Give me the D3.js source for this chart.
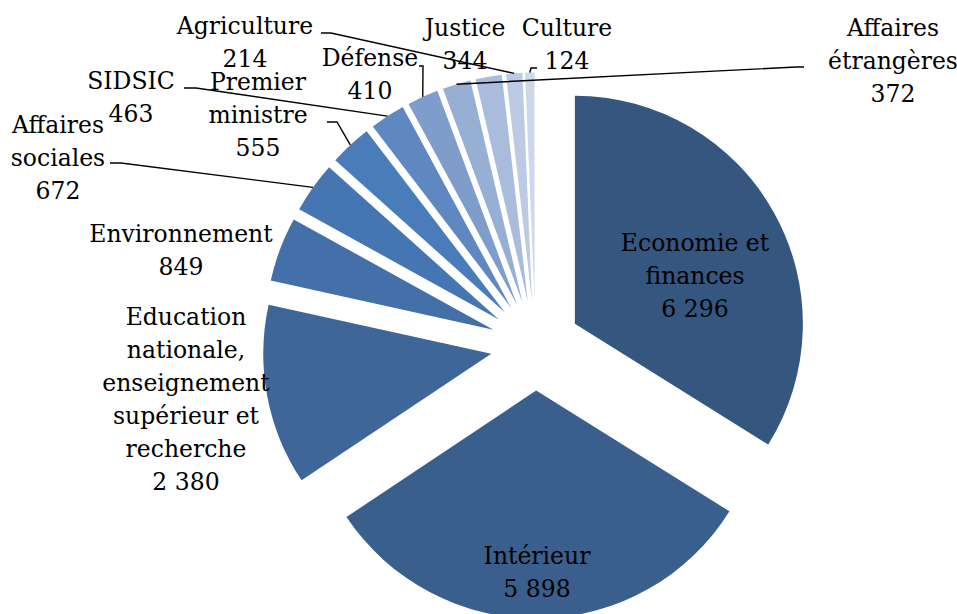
<!DOCTYPE html>
<html>
<head>
<meta charset="utf-8">
<script src="https://cdn.jsdelivr.net/npm/d3@7"></script>
<style>
  html, body { margin: 0; padding: 0; background: #fff; }
  svg { display: block; }
  text { font-family: "Palatino Linotype", "Book Antiqua", Palatino, "DejaVu Serif", serif; font-size: 23.5px; fill: #000; }
</style>
</head>
<body>
<svg id="chart" width="957" height="614"></svg>
<script>
// Effectifs par ministère (ordre décroissant, sens horaire depuis midi)
const ministries = [
  "Economie et finances", "Intérieur",
  "Education nationale, enseignement supérieur et recherche",
  "Environnement", "Affaires sociales", "Premier ministre", "SIDSIC",
  "Défense", "Affaires étrangères", "Justice", "Agriculture", "Culture"
];
const effectifs = [6296, 5898, 2380, 849, 672, 555, 463, 410, 372, 344, 214, 124];

// Libellés tels qu'affichés, découpés en lignes
const nameLines = [
  ["Economie et", "finances"], ["Intérieur"],
  ["Education", "nationale,", "enseignement", "supérieur et", "recherche"],
  ["Environnement"], ["Affaires", "sociales"], ["Premier", "ministre"],
  ["SIDSIC"], ["Défense"], ["Affaires", "étrangères"], ["Justice"],
  ["Agriculture"], ["Culture"]
];

// Dégradé de bleus, du plus sombre au plus clair
const palette = [
  "#34567f", "#3a5f8c", "#3e6698", "#4370a8", "#4676b2", "#4a7cba",
  "#6088c0", "#7f9dcb", "#98afd4", "#aabcdc", "#bdcae4", "#cfd8eb"
];

// Placement des étiquettes : centre horizontal et ligne de base de la 1re ligne
const labelPos = [
  [695, 251], [537, 564], [186, 325], [181, 242], [58, 133], [258, 90],
  [131, 89], [370, 66], [893, 36], [465, 36], [245, 34], [567, 36]
];
// Départ des traits de rappel, côté étiquette (null = pas de trait)
const leaderStart = [
  null, null, null, null,
  [[110, 163], [121, 163]],
  [[327, 122], [337, 122]],
  [[184, 88], [196, 88]],
  [[419, 66], [423, 66]],
  [[804, 67], [796, 67]],
  null,
  [[321, 33], [331, 33]],
  [[537, 68], [531, 68]]
];

const lineHeight = 33;
const cx = 535.5, cy = 345.5, R = 228, explode = 45;

const frFormat = d3.formatLocale({ decimal: ",", thousands: " ", grouping: [3], currency: ["", " €"] }).format(",d");

const svg = d3.select("#chart");

const pie = d3.pie().sort(null).value(d => d).startAngle(0).endAngle(2 * Math.PI);
const arcs = pie(effectifs);
const arc = d3.arc().innerRadius(0).outerRadius(R);

const mid = d => (d.startAngle + d.endAngle) / 2;

// Secteurs éclatés
svg.append("g").selectAll("path")
  .data(arcs)
  .join("path")
  .attr("d", arc)
  .attr("fill", (d, i) => palette[i])
  .attr("transform", d => {
    const a = mid(d);
    return `translate(${cx + explode * Math.sin(a)},${cy - explode * Math.cos(a)})`;
  });

// Traits de rappel jusqu'au milieu de l'arc extérieur
const line = d3.line();
svg.append("g").selectAll("path")
  .data(arcs.filter((d, i) => leaderStart[i]))
  .join("path")
  .attr("fill", "none")
  .attr("stroke", "#000")
  .attr("stroke-width", 1.4)
  .attr("d", d => {
    const a = mid(d);
    const end = [cx + (explode + R) * Math.sin(a), cy - (explode + R) * Math.cos(a)];
    return line([...leaderStart[d.index], end]);
  });

// Étiquettes : nom + valeur
const labels = svg.append("g").selectAll("text")
  .data(arcs)
  .join("text")
  .attr("text-anchor", "middle")
  .attr("x", (d, i) => labelPos[i][0])
  .attr("y", (d, i) => labelPos[i][1]);

labels.each(function (d, i) {
  const t = d3.select(this);
  const rows = [...nameLines[i], frFormat(effectifs[i])];
  rows.forEach((r, k) => {
    t.append("tspan")
      .attr("x", labelPos[i][0])
      .attr("dy", k === 0 ? 0 : lineHeight)
      .text(r);
  });
});
</script>
</body>
</html>
